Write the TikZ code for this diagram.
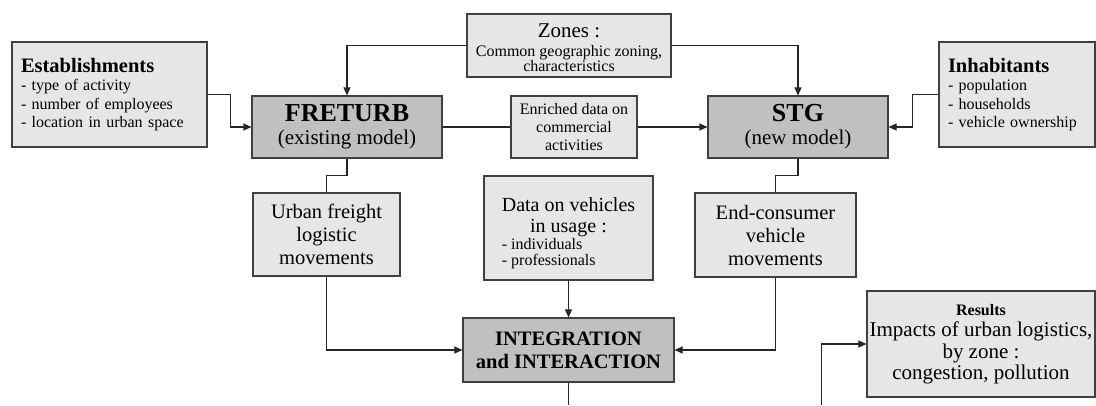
\documentclass[tikz,border=0pt]{standalone}
\usepackage{fontspec}
\setmainfont{Liberation Serif}
\usetikzlibrary{arrows.meta}
\definecolor{lightbox}{HTML}{E6E6E6}
\definecolor{darkbox}{HTML}{C0C0C0}
\definecolor{edgecol}{HTML}{404040}
\definecolor{linkcol}{HTML}{262626}
\newcommand{\fsz}[2]{\fontsize{#1}{#2}\selectfont}
\begin{document}
\begin{tikzpicture}[x=1pt,y=-1pt,
  box/.style={draw=edgecol, line width=1.1pt, fill=lightbox, inner sep=0pt, align=center},
  model/.style={box, fill=darkbox},
  listbox/.style={box, align=left, inner xsep=9pt},
  link/.style={draw=linkcol, line width=1.1pt},
  arr/.style={link, -{Triangle[length=8pt,width=7pt]}}]
\useasboundingbox (0,0) rectangle (1096,405);

\node[listbox, text width=177pt, minimum height=105pt, node font=\fsz{16}{18.3}] (est) at (109.5,94.5)
  {{\fsz{20.5}{22}\bfseries Establishments}\\- type of activity\\- number of employees\\- location in urban space};
\node[box, minimum width=204pt, minimum height=63pt, node font=\fsz{16}{15}] (zones) at (569,45.5)
  {\rule{0pt}{19pt}{\fsz{21}{22}Zones :}\\[4pt]Common geographic zoning,\\characteristics};
\node[model, minimum width=190pt, minimum height=62pt, node font=\fsz{21}{23}] (freturb) at (347,127)
  {{\fsz{26}{28}\bfseries FRETURB}\\(existing model)};
\node[box, minimum width=126pt, minimum height=62pt, node font=\fsz{16}{18.3}] (enriched) at (574,127)
  {Enriched data on\\commercial\\activities};
\node[model, minimum width=180pt, minimum height=62pt, node font=\fsz{21}{23}] (stg) at (798,127)
  {{\fsz{26}{28}\bfseries STG}\\(new model)};
\node[listbox, text width=138pt, minimum height=105pt, node font=\fsz{16}{18.3}] (inhab) at (1017,94.5)
  {{\fsz{20.5}{22}\bfseries Inhabitants}\\- population\\- households\\- vehicle ownership};
\node[box, minimum width=147pt, minimum height=83pt, node font=\fsz{20.5}{23}] (urban) at (326.5,234.5)
  {Urban freight\\logistic\\movements};
\node[box, minimum width=169pt, minimum height=104pt, node font=\fsz{16}{16}] (data) at (568.5,228)
  {\begin{tabular}{@{}l@{}}\rule{0pt}{25pt}{\fsz{20}{21.5}Data on vehicles}\\[3pt]
   \multicolumn{1}{@{}c@{}}{\fsz{20}{21.5}in usage :}\\[1pt]
   - individuals\\
   - professionals\end{tabular}};
\node[box, minimum width=161pt, minimum height=84pt, node font=\fsz{20.5}{23}] (endc) at (775.5,235)
  {End-consumer\\vehicle\\movements};
\node[model, minimum width=211pt, minimum height=64pt, node font=\fsz{20.5}{23}\bfseries] (integ) at (568.5,350)
  {INTEGRATION\\and INTERACTION};
\node[box, minimum width=228pt, minimum height=106pt, node font=\fsz{21}{21.5}] (results) at (981,344)
  {{\fsz{16}{18}\bfseries Results}\\Impacts of urban logistics,\\by zone :\\congestion, pollution};

\coordinate (integout) at (568.5,405);
\coordinate (resin) at (821.7,405);

\draw[arr] (zones.west) -| (freturb.north);
\draw[arr] (zones.east) -| (stg.north);
\draw[arr] (est.east) -- ++(23,0) |- (freturb.west);
\draw[link] (freturb.east) -- (enriched.west);
\draw[arr] (enriched.east) -- (stg.west);
\draw[arr] (inhab.west) -- ++(-26,0) |- (stg.east);
\draw[link] (freturb.south) -- ++(0,17) -| (urban.north);
\draw[link] (stg.south) -- ++(0,17) -| (endc.north);
\draw[arr] (urban.south) |- (integ.west);
\draw[arr] (data.south) -- (integ.north);
\draw[arr] (endc.south) |- (integ.east);
\draw[link] (integ.south) -- (integout);
\draw[arr] (resin) |- (results.west);
\end{tikzpicture}
\end{document}
